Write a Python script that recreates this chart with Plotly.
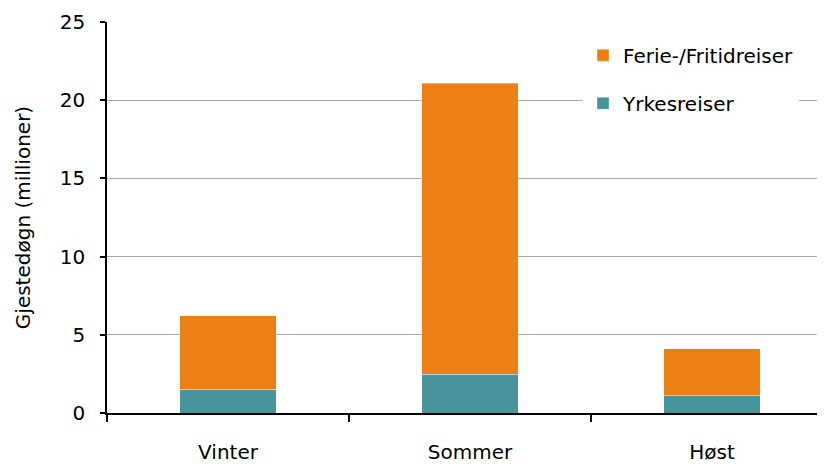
import plotly.graph_objects as go

categories = ["Vinter", "Sommer", "Høst"]
yrkesreiser = [1.53, 2.49, 1.15]
ferie_fritid_total = [6.21, 21.07, 4.10]
ferie_fritid = [round(t - y, 2) for t, y in zip(ferie_fritid_total, yrkesreiser)]
y_ticks = [0, 5, 10, 15, 20, 25]

FONT = "DejaVu Sans, Arial, sans-serif"
FS = 20
ORANGE = "#EB7F14"
TEAL = "#48949C"

fig = go.Figure()
fig.add_trace(go.Bar(
    x=categories, y=yrkesreiser, name="Yrkesreiser",
    marker=dict(color=TEAL, line=dict(color="rgba(255,255,255,0.45)", width=0.8)),
    width=0.4, legendgroup="b", legendrank=2,
))
fig.add_trace(go.Bar(
    x=categories, y=ferie_fritid, name="Ferie-/Fritidreiser",
    marker=dict(color=ORANGE, line=dict(color="rgba(255,255,255,0.45)", width=0.8)),
    width=0.4, legendgroup="a", legendrank=1,
))

fig.update_layout(
    width=817, height=459,
    barmode="stack",
    paper_bgcolor="white", plot_bgcolor="white",
    margin=dict(l=99, r=0, t=14, b=54, autoexpand=False),
    font=dict(family=FONT, size=FS, color="#000000"),
    showlegend=True,
    legend=dict(
        x=0.663, y=0.965, xanchor="left", yanchor="top",
        bgcolor="white", borderwidth=0,
        traceorder="grouped", tracegroupgap=19,
        entrywidth=195, entrywidthmode="pixels",
        font=dict(family=FONT, size=FS, color="#000000"),
    ),
    xaxis=dict(
        range=[-0.5, 2.467],
        showline=True, linecolor="#000000", linewidth=1.5,
        ticks="outside", tickson="boundaries", ticklen=7, tickwidth=1.5, tickcolor="#000000",
        showgrid=False, zeroline=False,
        tickfont=dict(family=FONT, size=FS, color="#000000"),
        ticklabelstandoff=20,
        automargin=False,
    ),
    yaxis=dict(
        range=[0, 25],
        tickvals=y_ticks,
        showline=True, linecolor="#000000", linewidth=1.5,
        ticks="outside", ticklen=5, tickwidth=1.5, tickcolor="#000000",
        showgrid=True, gridcolor="#A6A6A6", gridwidth=1.3,
        zeroline=False,
        tickfont=dict(family=FONT, size=FS, color="#000000"),
        ticklabelstandoff=11,
        title=dict(text="Gjestedøgn (millioner)", font=dict(family=FONT, size=FS, color="#000000"), standoff=24),
        automargin=False,
    ),
)

fig.write_html("out.html")
